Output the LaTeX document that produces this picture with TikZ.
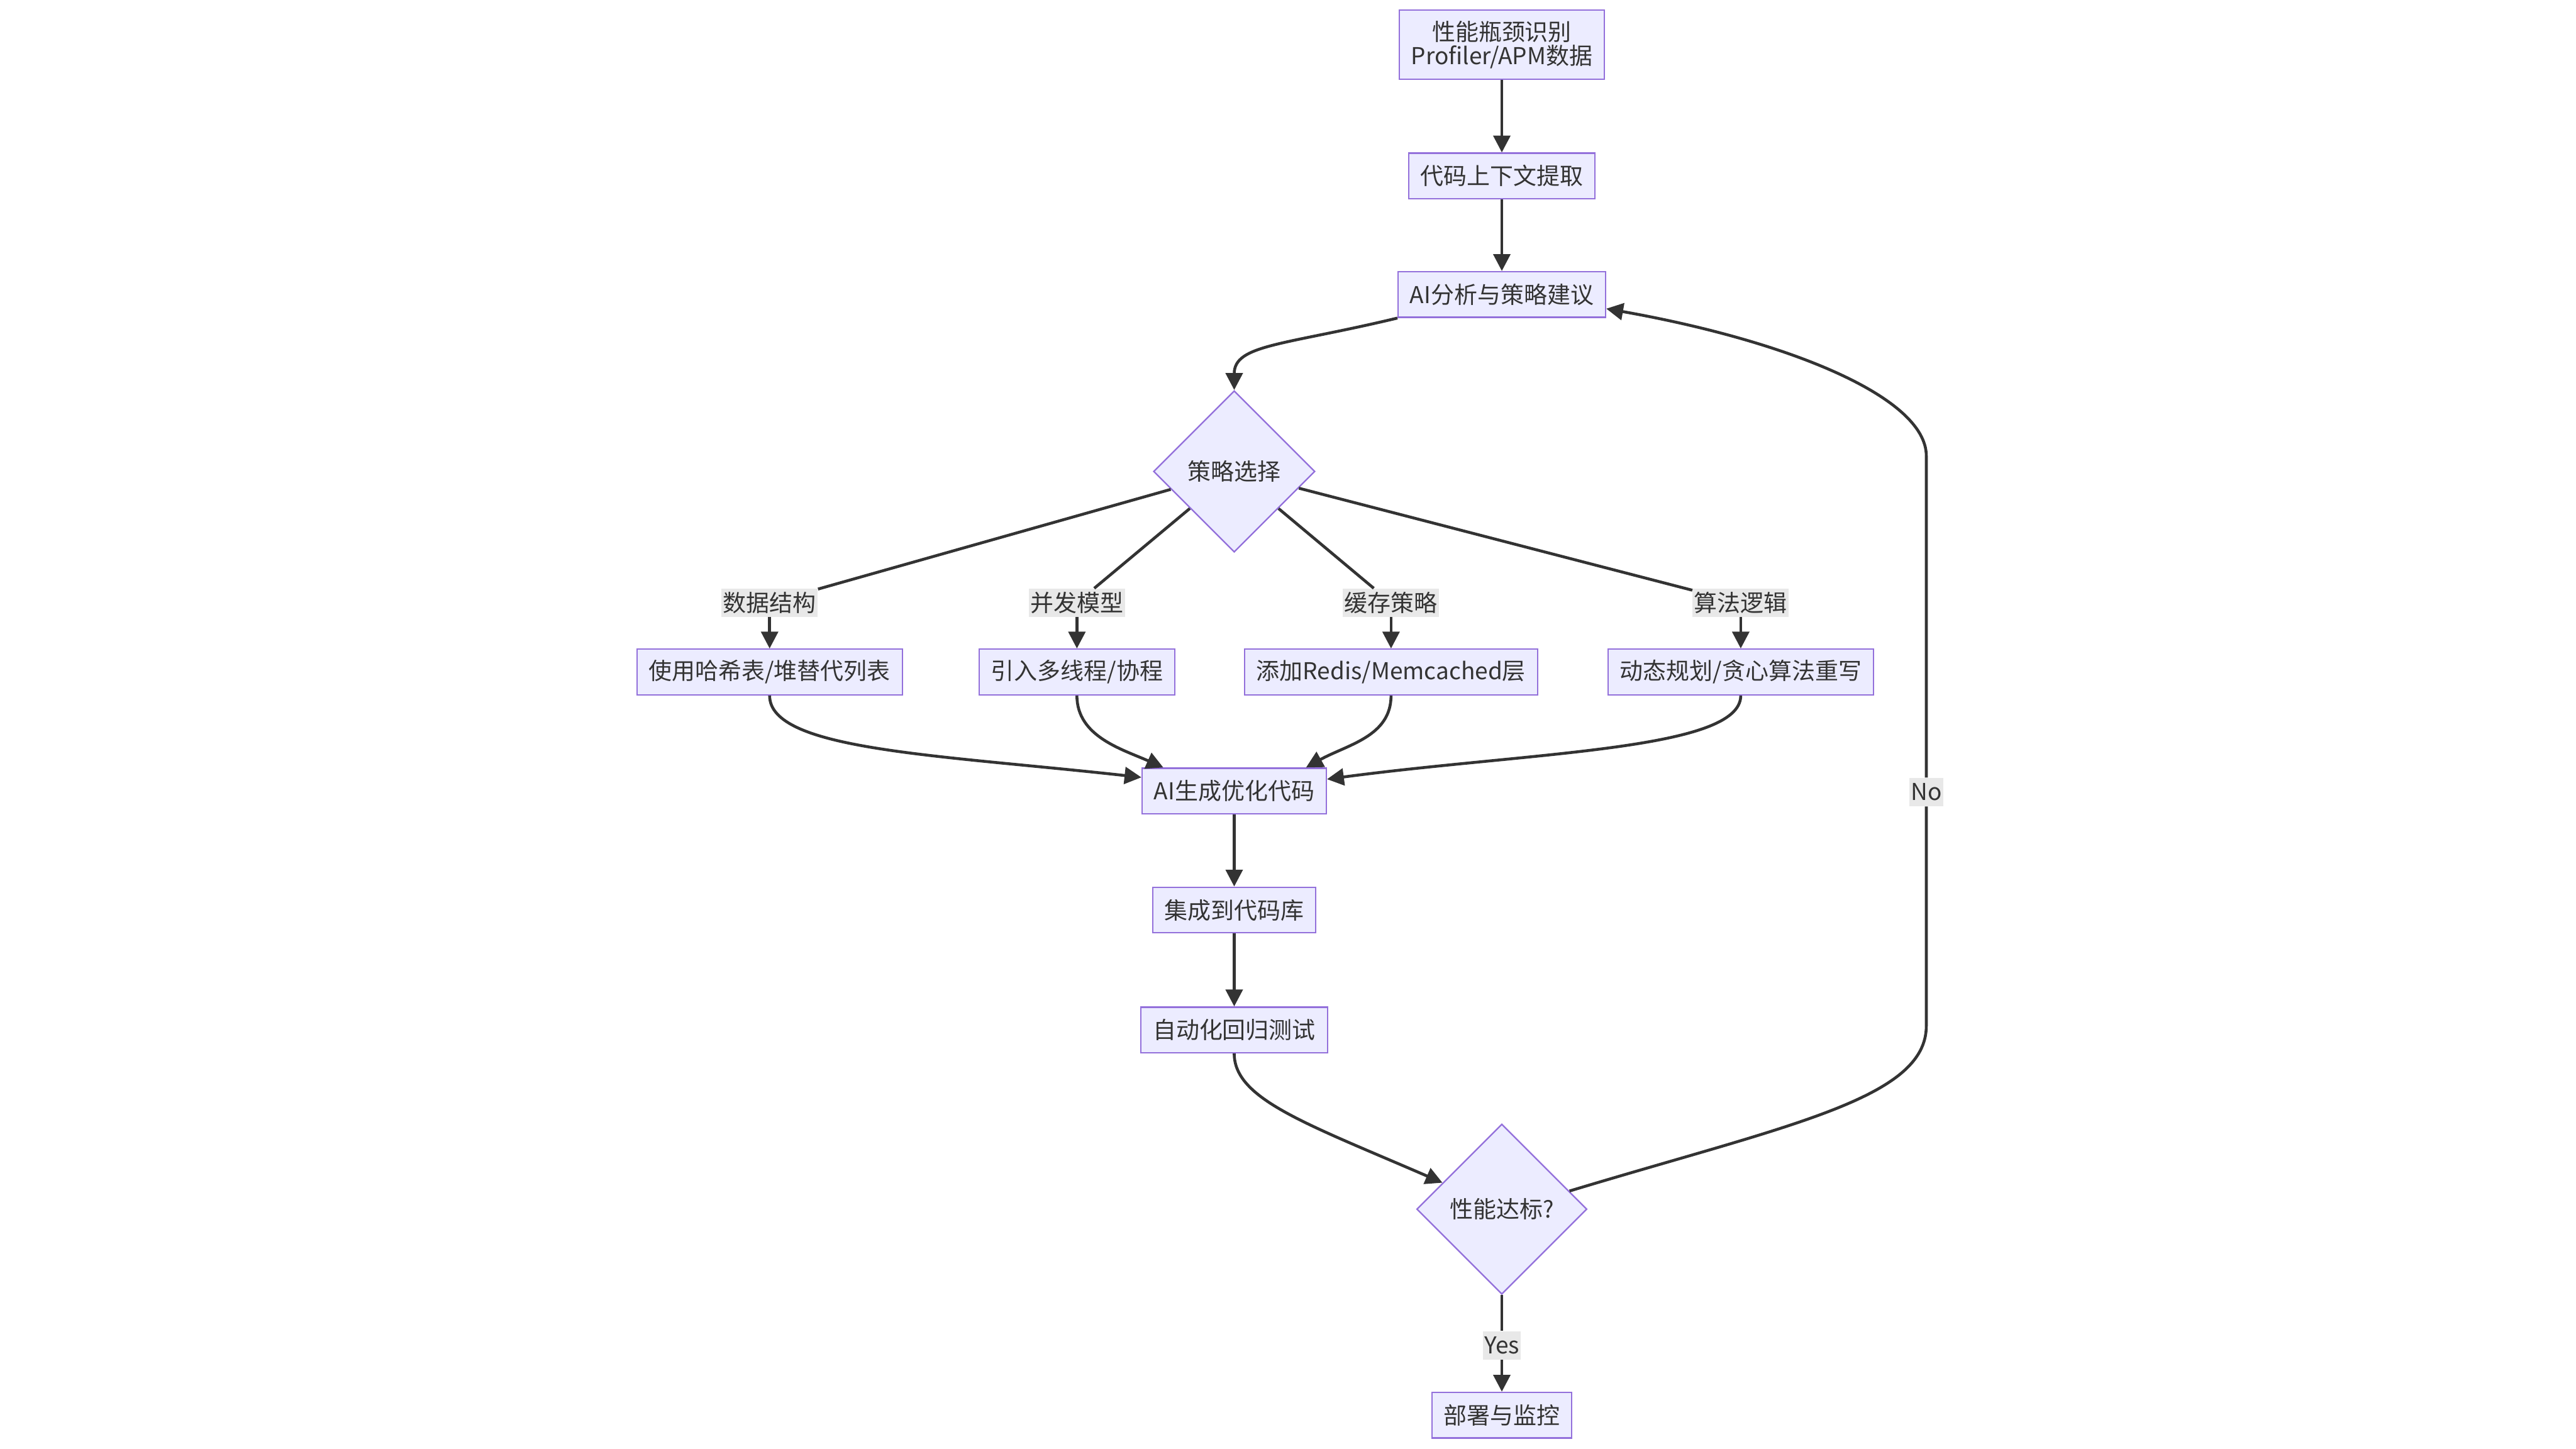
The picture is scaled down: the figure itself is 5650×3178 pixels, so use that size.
\documentclass[tikz,border=0pt]{standalone}
\usepackage{fontspec}
\setmainfont{Noto Sans CJK SC}
\usetikzlibrary{arrows.meta,shapes.geometric}
\definecolor{Ink}{HTML}{333333}
\definecolor{NodeFill}{HTML}{ECECFF}
\definecolor{NodeBorder}{HTML}{9370DB}
\definecolor{TagFill}{HTML}{E8E8E8}
\tikzset{
  procbox/.style={
    draw=NodeBorder,
    fill=NodeFill,
    line width=0.9pt,
    inner xsep=0.26cm,
    inner ysep=0pt,
    minimum height=1cm,
    text=Ink,
    align=center
  },
  decide/.style={
    diamond,
    aspect=1,
    draw=NodeBorder,
    fill=NodeFill,
    line width=0.9pt,
    inner sep=0pt,
    text=Ink
  },
  edgetag/.style={fill=TagFill, text=Ink, inner xsep=1pt, inner ysep=0pt, minimum height=0.62cm},
  wire/.style={draw=Ink, line width=1.8pt},
  flow/.style={wire, -{Triangle[length=0.37cm, width=0.37cm]}}
}

\begin{document}
\begin{tikzpicture}[x=0.01cm, y=0.01cm, font=\fontsize{14.5pt}{15pt}\selectfont]
  \useasboundingbox (0,0) rectangle (5650,-3178);

  \node[procbox, minimum height=1.52cm] (bottleneck) at (3294,-98) {性能瓶颈识别\\Profiler/APM数据};
  \node[procbox] (context) at (3294,-386) {代码上下文提取};
  \node[procbox] (analysis) at (3294,-646) {AI分析与策略建议};
  \node[decide, minimum size=3.54cm] (choice) at (2707,-1034) {策略选择};

  \node[edgetag] (tagdata) at (1688,-1322) {数据结构};
  \node[edgetag] (tagconc) at (2362,-1322) {并发模型};
  \node[edgetag] (tagcache) at (3051,-1322) {缓存策略};
  \node[edgetag] (tagalgo) at (3818,-1322) {算法逻辑};

  \node[procbox] (hashheap) at (1688,-1474) {使用哈希表/堆替代列表};
  \node[procbox] (threads) at (2362,-1474) {引入多线程/协程};
  \node[procbox] (cachelayer) at (3051,-1474) {添加Redis/Memcached层};
  \node[procbox] (algorewrite) at (3818,-1474) {动态规划/贪心算法重写};

  \node[procbox] (gencode) at (2707,-1735) {AI生成优化代码};
  \node[procbox] (merge) at (2707,-1996) {集成到代码库};
  \node[procbox] (regress) at (2707,-2259) {自动化回归测试};
  \node[decide, minimum size=3.73cm] (passcheck) at (3294,-2652) {性能达标?};
  \node[edgetag] (tagyes) at (3294,-2951) {Yes};
  \node[procbox] (deploy) at (3294,-3104) {部署与监控};
  \node[edgetag] (tagno) at (4225,-1737) {No};

  \draw[flow] (bottleneck) -- (context);
  \draw[flow] (context) -- (analysis);
  \draw[flow] (analysis.south west) .. controls +(-250,-60) and +(0,100) .. (choice.north);

  \draw[wire] (choice) -- (tagdata);
  \draw[wire] (choice) -- (tagconc);
  \draw[wire] (choice) -- (tagcache);
  \draw[wire] (choice) -- (tagalgo);
  \draw[flow] (tagdata) -- (hashheap);
  \draw[flow] (tagconc) -- (threads);
  \draw[flow] (tagcache) -- (cachelayer);
  \draw[flow] (tagalgo) -- (algorewrite);

  \draw[flow] (hashheap.south) .. controls +(0,-120) and +(-450,50) .. ([yshift=0.3cm]gencode.west);
  \draw[flow] (threads.south) .. controls +(0,-90) and +(-90,40) .. ([xshift=0.48cm]gencode.north west);
  \draw[flow] (cachelayer.south) .. controls +(0,-90) and +(90,50) .. ([xshift=-0.46cm]gencode.north east);
  \draw[flow] (algorewrite.south) .. controls +(0,-120) and +(450,60) .. ([yshift=0.26cm]gencode.east);

  \draw[flow] (gencode) -- (merge);
  \draw[flow] (merge) -- (regress);
  \draw[flow] (regress.south) .. controls +(0,-100) and +(-300,130) .. (passcheck.156);

  \draw[wire] (passcheck) -- (tagyes);
  \draw[flow] (tagyes) -- (deploy);

  \draw[wire] (passcheck.15) .. controls +(480,145) and +(0,-160) .. (4225,-2250) -- (tagno);
  \draw[flow] (tagno) -- (4225,-1000) .. controls +(0,130) and +(395,-70) .. ([yshift=-0.31cm]analysis.east);
\end{tikzpicture}
\end{document}
